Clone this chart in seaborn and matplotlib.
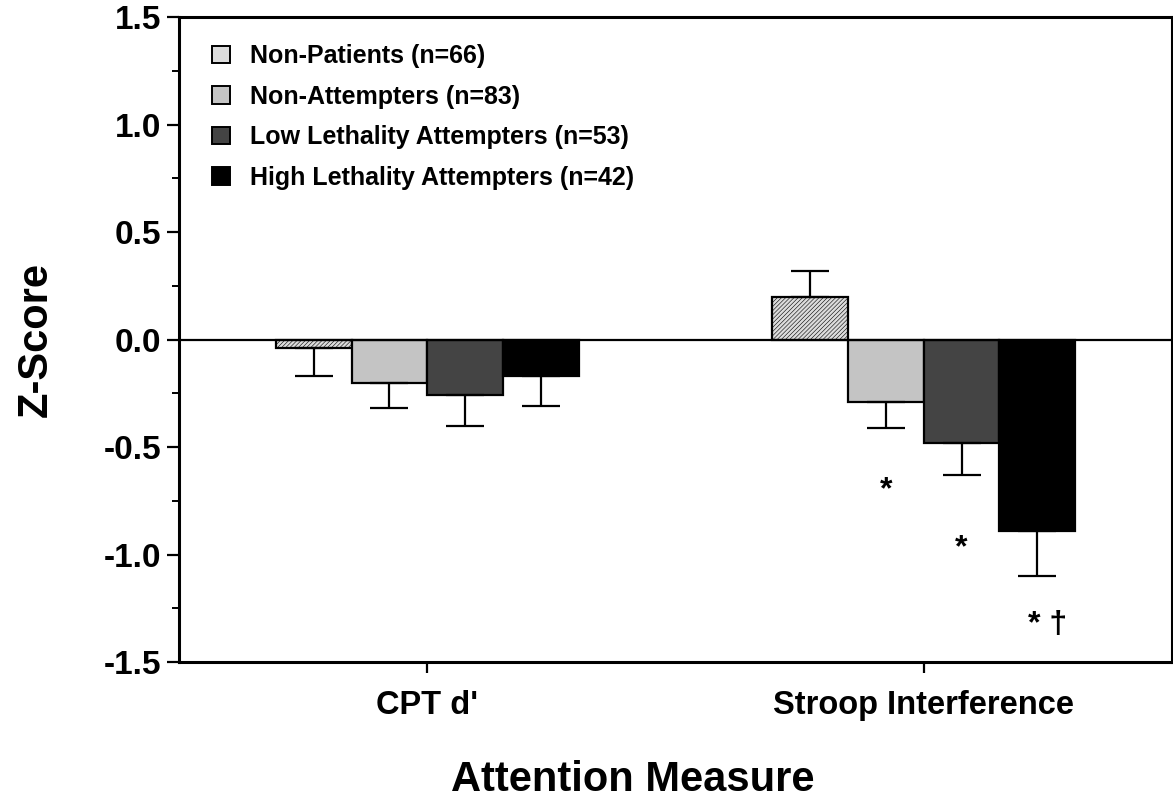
import pandas as pd
import seaborn as sns
import matplotlib.pyplot as plt

# values
measures = ["CPT d'", "Stroop Interference"]
groups = ["Non-Patients (n=66)", "Non-Attempters (n=83)",
          "Low Lethality Attempters (n=53)", "High Lethality Attempters (n=42)"]
cpt_means = [-0.04, -0.20, -0.26, -0.17]
cpt_errs = [0.13, 0.12, 0.14, 0.14]
stroop_means = [0.20, -0.29, -0.48, -0.89]
stroop_errs = [0.12, 0.12, 0.15, 0.21]
colors = ["#dcdcdc", "#c4c4c4", "#444444", "#000000"]

# significance marks under the Stroop bars (group index, text, y)
sig_marks = [(1, "*", -0.70), (2, "*", -0.97), (3, "* \u2020", -1.33)]

rows = []
for g, m, e in zip(groups, cpt_means, cpt_errs):
    rows.append({"measure": measures[0], "group": g, "z": m, "err": e})
for g, m, e in zip(groups, stroop_means, stroop_errs):
    rows.append({"measure": measures[1], "group": g, "z": m, "err": e})
df = pd.DataFrame(rows)

sns.set_style("white")
plt.rcParams['font.family'] = ['Liberation Sans', 'DejaVu Sans']
plt.rcParams['font.weight'] = 'bold'
plt.rcParams['hatch.linewidth'] = 0.4
for k in ['text.color', 'axes.labelcolor', 'xtick.color', 'ytick.color']:
    plt.rcParams[k] = 'black'

fig = plt.figure(figsize=(11.73, 7.99), dpi=100)
ax = fig.add_axes([0.1526, 0.1715, 0.8465, 0.807])

sns.barplot(data=df, x="measure", y="z", hue="group", palette=colors,
            width=0.61, edgecolor="black", linewidth=1.6, errorbar=None,
            saturation=1, ax=ax)
bar_conts = list(ax.containers)

# one-sided error bars pointing away from zero
for gi, cont in enumerate(bar_conts):
    sub = df[df["group"] == groups[gi]]
    for bar, (_, r) in zip(cont, sub.iterrows()):
        xc = bar.get_x() + bar.get_width() / 2
        if r["z"] >= 0:
            yerr = [[0], [r["err"]]]
        else:
            yerr = [[r["err"]], [0]]
        ax.errorbar(xc, r["z"], yerr=yerr, fmt="none", ecolor="black",
                    elinewidth=1.6, capsize=14, capthick=1.6, zorder=1)
    if gi == 0:
        for bar in cont:
            bar.set_hatch("////////")
            try:
                bar.set_hatchcolor("#a8a8a8")
            except AttributeError:
                pass

for gi, txt, y in sig_marks:
    bar = bar_conts[gi][1]
    xc = bar.get_x() + bar.get_width() / 2
    if len(txt) > 1:
        xc += 0.02
    ax.text(xc, y, txt, ha="center", va="center", fontsize=23, fontweight="bold")

ax.axhline(0, color="black", lw=1.6, zorder=3)

ax.set_ylim(-1.5, 1.5)
ax.set_xlim(-0.5, 1.5)
ax.set_yticks([-1.5, -1.0, -0.5, 0.0, 0.5, 1.0, 1.5])
ax.set_yticks([-1.25, -0.75, -0.25, 0.25, 0.75, 1.25], minor=True)
ax.set_yticklabels(["-1.5", "-1.0", "-0.5", "0.0", "0.5", "1.0", "1.5"])
ax.tick_params(axis="y", which="major", direction="out", length=9, width=1.6,
               labelsize=24, pad=4, left=True)
ax.tick_params(axis="y", which="minor", direction="out", length=5, width=1.4, left=True)
ax.tick_params(axis="x", direction="out", length=8, width=1.6, labelsize=23.5,
               pad=12, bottom=True)
for s in ax.spines.values():
    s.set_color("black")
    s.set_linewidth(2.2)

ax.set_xlabel("Attention Measure", fontsize=30, fontweight="bold")
ax.xaxis.set_label_coords(0.457, -0.152)
ax.set_ylabel("Z-Score", fontsize=30, fontweight="bold")
ax.yaxis.set_label_coords(-0.124, 0.5)

leg = ax.legend(loc="upper left", bbox_to_anchor=(0.011, 0.993), frameon=False,
                fontsize=18, handlelength=0.72, handleheight=0.72,
                labelspacing=0.66, handletextpad=0.8)
for h in leg.legend_handles:
    h.set_linewidth(1.4)

fig.savefig("out.png", dpi=100)
